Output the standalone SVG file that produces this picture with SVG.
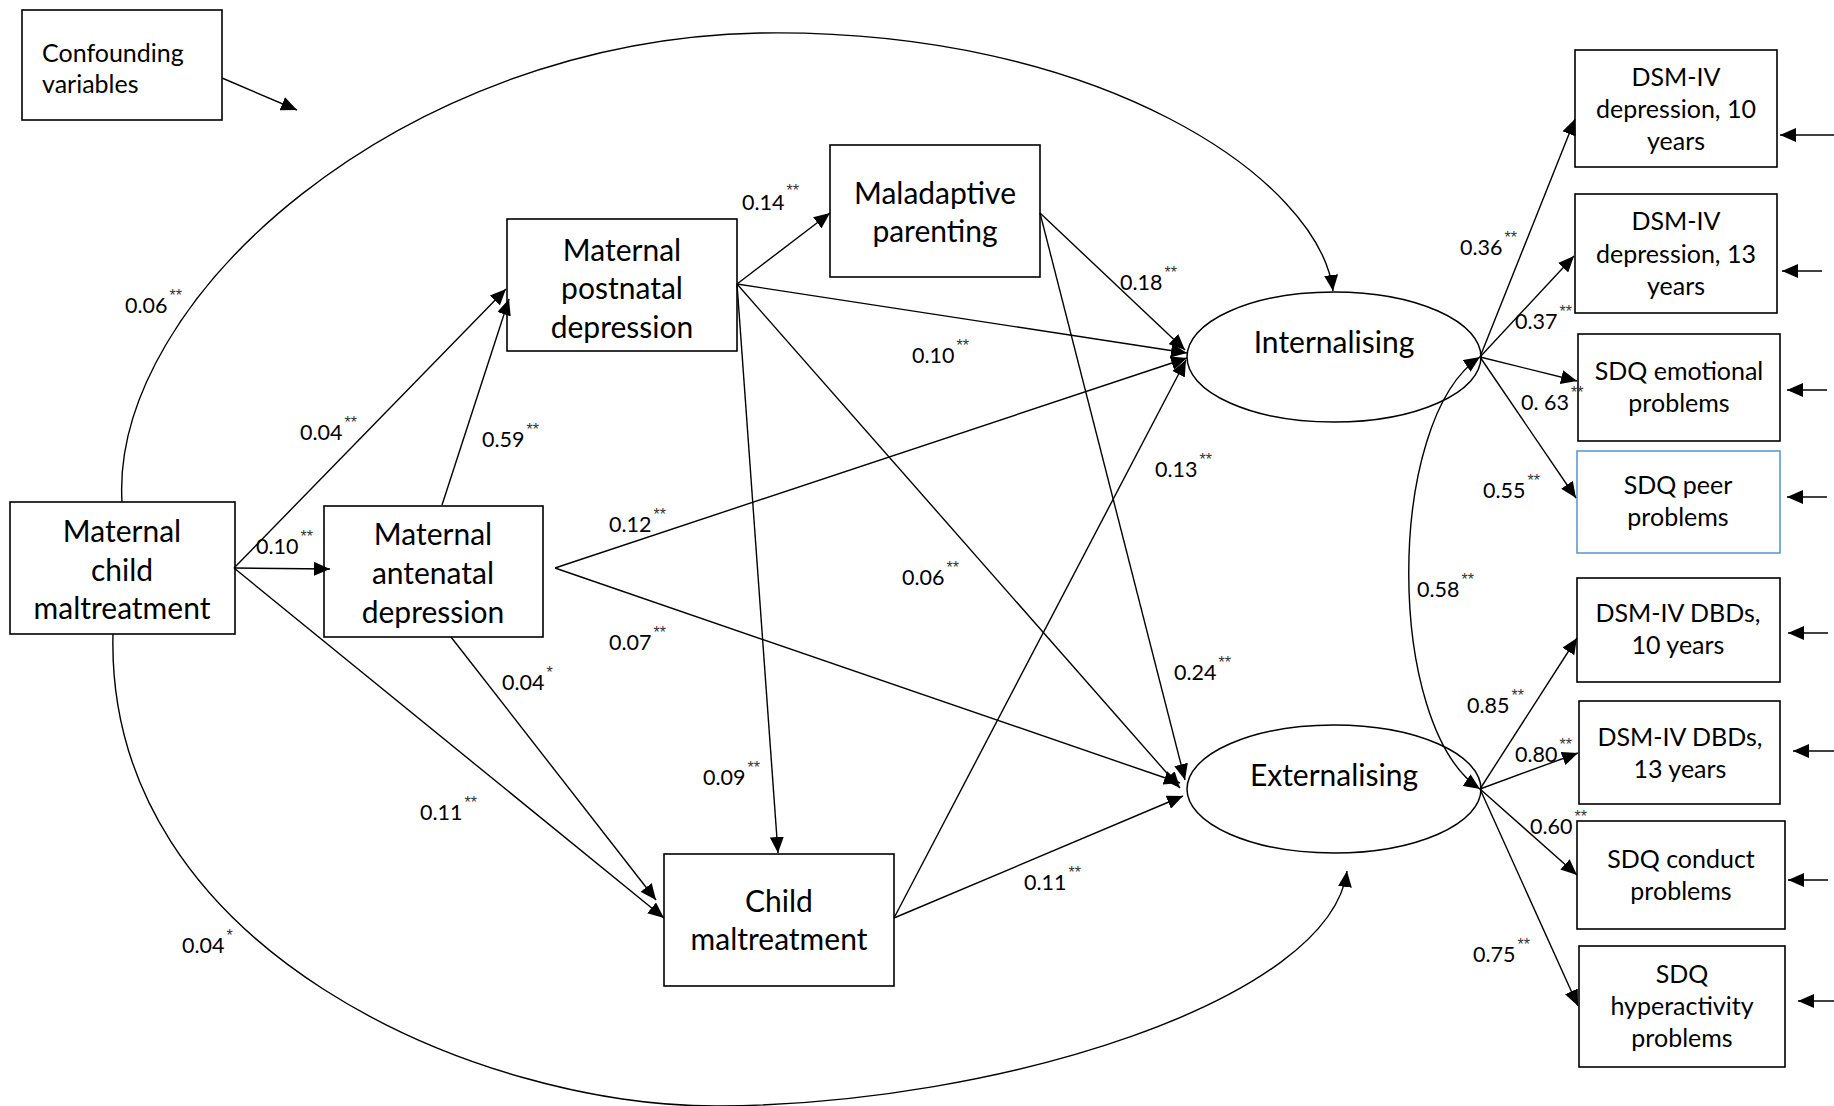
<svg xmlns="http://www.w3.org/2000/svg" width="1834" height="1106" viewBox="0 0 1834 1106">
<defs>
<style>
.box{fill:#fff;stroke:#000;stroke-width:1.6}
.ell{fill:none;stroke:#000;stroke-width:1.5}
.ln{fill:none;stroke:#000;stroke-width:1.4;marker-end:url(#ah)}
.big{font-family:Lato,'Liberation Sans',sans-serif;font-size:30px;text-anchor:middle;fill:#000}
.sm{font-family:Lato,'Liberation Sans',sans-serif;font-size:25px;text-anchor:middle;fill:#000}
.lft{text-anchor:start}
.num{font-family:Lato,'Liberation Sans',sans-serif;font-size:21.5px;fill:#000}
.st{font-family:'Liberation Sans',sans-serif;font-size:16px;fill:#333}
</style>
<marker id="ah" viewBox="0 0 16 14" refX="16" refY="7" markerWidth="16" markerHeight="14" markerUnits="userSpaceOnUse" orient="auto-start-reverse">
<path d="M0,0 L16,7 L0,14 z" fill="#000"/>
</marker>
</defs>
<rect width="1834" height="1106" fill="#fff"/>

<g id="node-confounding">
<rect class="box" x="22" y="10" width="200" height="110"/>
<text class="sm lft" x="42" y="62">Confounding</text>
<text class="sm lft" x="42" y="93">variables</text>
</g>
<g id="node-maternal-child-maltreatment">
<rect class="box" x="10" y="502" width="225" height="132"/>
<text class="big" x="122" y="542">Maternal</text>
<text class="big" x="122" y="581">child</text>
<text class="big" x="122" y="619">maltreatment</text>
</g>
<g id="node-antenatal">
<rect class="box" x="324" y="506" width="219" height="131"/>
<text class="big" x="433" y="545">Maternal</text>
<text class="big" x="433" y="584">antenatal</text>
<text class="big" x="433" y="623">depression</text>
</g>
<g id="node-postnatal">
<rect class="box" x="507" y="219" width="230" height="132"/>
<text class="big" x="622" y="261">Maternal</text>
<text class="big" x="622" y="299">postnatal</text>
<text class="big" x="622" y="338">depression</text>
</g>
<g id="node-maladaptive">
<rect class="box" x="830" y="145" width="210" height="132"/>
<text class="big" x="935" y="204">Maladaptive</text>
<text class="big" x="935" y="242">parenting</text>
</g>
<g id="node-child-maltreatment">
<rect class="box" x="664" y="854" width="230" height="132"/>
<text class="big" x="779" y="912">Child</text>
<text class="big" x="779" y="950">maltreatment</text>
</g>
<g id="node-internalising">
<ellipse class="ell" cx="1334" cy="357" rx="147" ry="65"/>
<text class="big" x="1334" y="353">Internalising</text>
</g>
<g id="node-externalising">
<ellipse class="ell" cx="1334" cy="789" rx="147" ry="64"/>
<text class="big" x="1334" y="786">Externalising</text>
</g>
<g id="node-dsm-dep-10">
<rect class="box" x="1575" y="50" width="202" height="117"/>
<text class="sm" x="1676" y="86">DSM-IV</text>
<text class="sm" x="1676" y="118">depression, 10</text>
<text class="sm" x="1676" y="150">years</text>
</g>
<g id="node-dsm-dep-13">
<rect class="box" x="1575" y="194" width="202" height="119"/>
<text class="sm" x="1676" y="230">DSM-IV</text>
<text class="sm" x="1676" y="263">depression, 13</text>
<text class="sm" x="1676" y="295">years</text>
</g>
<g id="node-sdq-emotional">
<rect class="box" x="1578" y="334" width="202" height="107"/>
<text class="sm" x="1679" y="380">SDQ emotional</text>
<text class="sm" x="1679" y="412">problems</text>
</g>
<g id="node-sdq-peer">
<rect x="1577" y="451" width="203" height="102" fill="#fff" stroke="#5b9bd5" stroke-width="1.6"/>
<text class="sm" x="1678" y="494">SDQ peer</text>
<text class="sm" x="1678" y="526">problems</text>
</g>
<g id="node-dsm-dbd-10">
<rect class="box" x="1577" y="578" width="203" height="104"/>
<text class="sm" x="1678" y="622">DSM-IV DBDs,</text>
<text class="sm" x="1678" y="654">10 years</text>
</g>
<g id="node-dsm-dbd-13">
<rect class="box" x="1579" y="701" width="201" height="103"/>
<text class="sm" x="1680" y="746">DSM-IV DBDs,</text>
<text class="sm" x="1680" y="778">13 years</text>
</g>
<g id="node-sdq-conduct">
<rect class="box" x="1577" y="821" width="208" height="108"/>
<text class="sm" x="1681" y="868">SDQ conduct</text>
<text class="sm" x="1681" y="900">problems</text>
</g>
<g id="node-sdq-hyperactivity">
<rect class="box" x="1579" y="946" width="206" height="121"/>
<text class="sm" x="1682" y="983">SDQ</text>
<text class="sm" x="1682" y="1015">hyperactivity</text>
<text class="sm" x="1682" y="1047">problems</text>
</g>

<g id="connectors">
<path class="ln" d="M222,78 L297,110"/>
<path class="ln" d="M122,502 C110,300 400,40 760,33 C1100,28 1320,180 1333,291"/>
<path class="ln" d="M113,634 C105,950 480,1108 720,1106 C1000,1104 1330,1000 1347,871"/>
<path class="ln" d="M234,568 L506,289"/>
<path class="ln" d="M234,568 L330,569"/>
<path class="ln" d="M234,568 L664,918"/>
<path class="ln" d="M442,505 L509,299"/>
<path class="ln" d="M451,637 L656,900"/>
<path class="ln" d="M555,568 L1187,358"/>
<path class="ln" d="M555,568 L1180,783"/>
<path class="ln" d="M737,284 L830,213"/>
<path class="ln" d="M737,284 L1187,353"/>
<path class="ln" d="M737,284 L1180,788"/>
<path class="ln" d="M737,284 L778,853"/>
<path class="ln" d="M1040,213 L1185,350"/>
<path class="ln" d="M1040,213 L1185,780"/>
<path class="ln" d="M894,918 L1186,360"/>
<path class="ln" d="M894,918 L1183,796"/>
<path class="ln" d="M1480,357 L1575,119"/>
<path class="ln" d="M1480,357 L1574,256"/>
<path class="ln" d="M1480,357 L1577,381"/>
<path class="ln" d="M1480,357 L1576,498"/>
<path class="ln" d="M1480,789 L1577,638"/>
<path class="ln" d="M1480,789 L1578,753"/>
<path class="ln" d="M1480,789 L1577,875"/>
<path class="ln" d="M1480,789 L1578,1006"/>
<path class="ln" style="marker-start:url(#ah)" d="M1480,357 C1385,420 1385,726 1480,789"/>
<path class="ln" d="M1834,135 L1780,135"/>
<path class="ln" d="M1822,271 L1782,271"/>
<path class="ln" d="M1827,390 L1787,390"/>
<path class="ln" d="M1827,497 L1787,497"/>
<path class="ln" d="M1828,633 L1788,633"/>
<path class="ln" d="M1834,751 L1793,751"/>
<path class="ln" d="M1828,880 L1788,880"/>
<path class="ln" d="M1834,1001 L1798,1001"/>
</g>

<g id="labels" class="num">
<text x="125" y="313">0.06<tspan class="st" dx="2" dy="-12">**</tspan></text>
<text x="300" y="440">0.04<tspan class="st" dx="2" dy="-12">**</tspan></text>
<text x="482" y="447">0.59<tspan class="st" dx="2" dy="-12">**</tspan></text>
<text x="256" y="554">0.10<tspan class="st" dx="2" dy="-12">**</tspan></text>
<text x="742" y="210">0.14<tspan class="st" dx="2" dy="-14">**</tspan></text>
<text x="912" y="363">0.10<tspan class="st" dx="2" dy="-12">**</tspan></text>
<text x="1120" y="290">0.18<tspan class="st" dx="2" dy="-12">**</tspan></text>
<text x="609" y="532">0.12<tspan class="st" dx="2" dy="-12">**</tspan></text>
<text x="609" y="650">0.07<tspan class="st" dx="2" dy="-12">**</tspan></text>
<text x="902" y="585">0.06<tspan class="st" dx="2" dy="-12">**</tspan></text>
<text x="502" y="690">0.04<tspan class="st" dx="2" dy="-12">*</tspan></text>
<text x="703" y="785">0.09<tspan class="st" dx="2" dy="-12">**</tspan></text>
<text x="420" y="820">0.11<tspan class="st" dx="2" dy="-12">**</tspan></text>
<text x="1155" y="477">0.13<tspan class="st" dx="2" dy="-12">**</tspan></text>
<text x="1174" y="680">0.24<tspan class="st" dx="2" dy="-12">**</tspan></text>
<text x="1024" y="890">0.11<tspan class="st" dx="2" dy="-12">**</tspan></text>
<text x="182" y="953">0.04<tspan class="st" dx="2" dy="-12">*</tspan></text>
<text x="1460" y="255">0.36<tspan class="st" dx="2" dy="-12">**</tspan></text>
<text x="1515" y="329">0.37<tspan class="st" dx="2" dy="-12">**</tspan></text>
<text x="1521" y="410">0. 63<tspan class="st" dx="2" dy="-12">**</tspan></text>
<text x="1483" y="498">0.55<tspan class="st" dx="2" dy="-12">**</tspan></text>
<text x="1417" y="597">0.58<tspan class="st" dx="2" dy="-12">**</tspan></text>
<text x="1467" y="713">0.85<tspan class="st" dx="2" dy="-12">**</tspan></text>
<text x="1515" y="762">0.80<tspan class="st" dx="2" dy="-12">**</tspan></text>
<text x="1530" y="834">0.60<tspan class="st" dx="2" dy="-12">**</tspan></text>
<text x="1473" y="962">0.75<tspan class="st" dx="2" dy="-12">**</tspan></text>
</g>
</svg>
